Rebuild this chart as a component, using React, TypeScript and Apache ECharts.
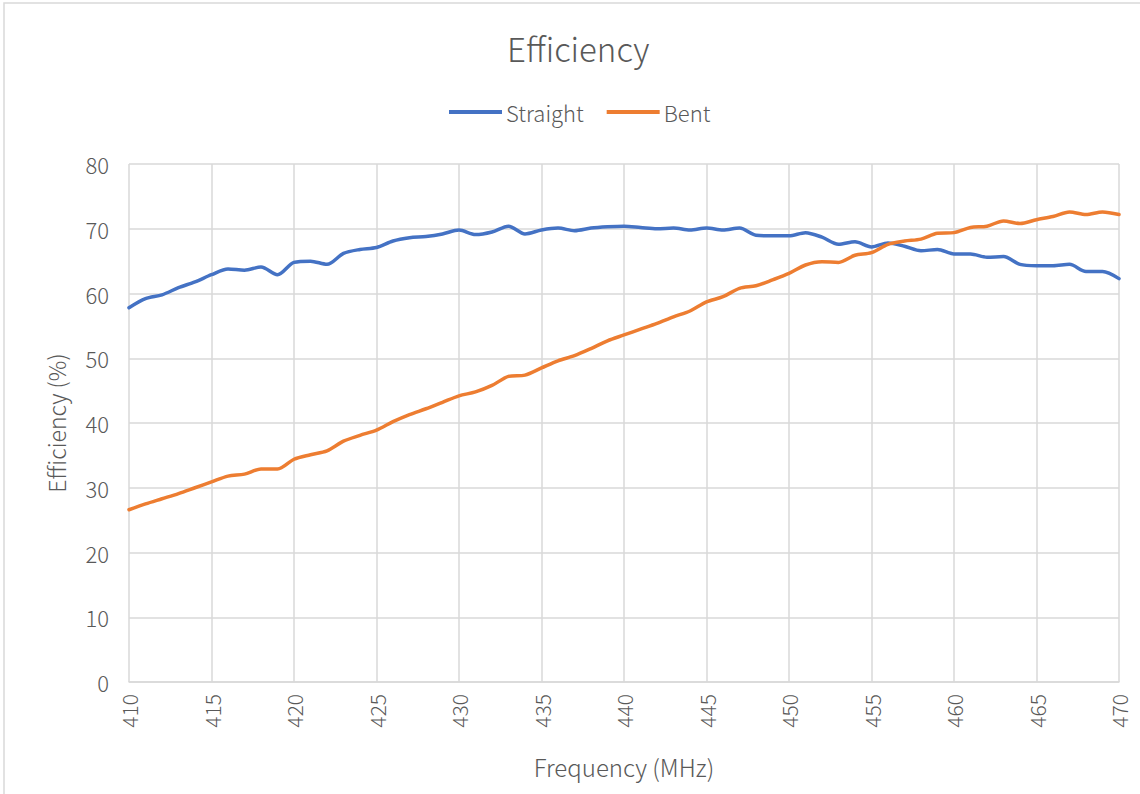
import React, { useEffect, useRef } from "react";
import * as echarts from "echarts";

const frequencies: number[] = [
  410, 411, 412, 413, 414, 415, 416, 417, 418, 419, 420, 421, 422, 423, 424, 425, 426, 427, 428, 429,
  430, 431, 432, 433, 434, 435, 436, 437, 438, 439, 440, 441, 442, 443, 444, 445, 446, 447, 448, 449,
  450, 451, 452, 453, 454, 455, 456, 457, 458, 459, 460, 461, 462, 463, 464, 465, 466, 467, 468, 469, 470,
];

const straight: number[] = [
  57.8, 59.2, 59.8, 60.9, 61.8, 62.9, 63.8, 63.6, 64.1, 62.9, 64.8, 65.0, 64.5, 66.2, 66.8, 67.1, 68.1, 68.6, 68.8, 69.2,
  69.8, 69.1, 69.5, 70.4, 69.2, 69.8, 70.1, 69.7, 70.1, 70.3, 70.4, 70.2, 70.0, 70.1, 69.8, 70.1, 69.8, 70.1, 69.0, 68.9,
  68.9, 69.4, 68.7, 67.6, 68.0, 67.2, 67.8, 67.3, 66.6, 66.8, 66.1, 66.1, 65.6, 65.7, 64.5, 64.3, 64.3, 64.5, 63.4, 63.4, 62.3,
];

const bent: number[] = [
  26.6, 27.5, 28.3, 29.1, 30.0, 30.9, 31.8, 32.1, 32.9, 32.9, 34.4, 35.1, 35.7, 37.2, 38.1, 38.9, 40.2, 41.3, 42.2, 43.2,
  44.2, 44.8, 45.8, 47.2, 47.4, 48.5, 49.6, 50.4, 51.5, 52.7, 53.6, 54.5, 55.4, 56.4, 57.3, 58.7, 59.5, 60.8, 61.2, 62.1,
  63.1, 64.4, 64.9, 64.8, 65.9, 66.3, 67.6, 68.1, 68.4, 69.3, 69.4, 70.2, 70.4, 71.2, 70.8, 71.4, 71.9, 72.6, 72.2, 72.6, 72.2,
];

const seriesNames: string[] = ["Straight", "Bent"];
const chartTitle = "Efficiency";
const xAxisName = "Frequency (MHz)";
const yAxisName = "Efficiency (%)";

const FONT = '"Noto Sans CJK SC", "Noto Sans", sans-serif';
const TEXT = "#595959";
const GRID = "#d9d9d9";

export default function App() {
  const ref = useRef<HTMLDivElement>(null);

  useEffect(() => {
    if (!ref.current) return;
    const chart = echarts.init(ref.current, undefined, { renderer: "svg" });
    chart.setOption({
      animation: false,
      backgroundColor: "#ffffff",
      textStyle: { fontFamily: FONT },
      graphic: [
        {
          type: "rect",
          shape: { x: 4, y: 3, width: 1150, height: 820 },
          style: { fill: "none", stroke: GRID, lineWidth: 1.5 },
          silent: true,
          z: -1,
        },
      ],
      title: {
        text: chartTitle,
        left: 502,
        top: 26,
        textStyle: { fontFamily: FONT, fontSize: 33, fontWeight: 300, color: TEXT },
      },
      legend: {
        top: 96,
        left: 444,
        icon: "rect",
        itemWidth: 53,
        itemHeight: 4,
        itemGap: 23,
        textStyle: { fontFamily: FONT, fontSize: 22, fontWeight: 300, color: TEXT, padding: [0, 0, 0, -1] },
        data: seriesNames,
      },
      grid: { left: 129, right: 21, top: 164, bottom: 112, containLabel: false },
      xAxis: {
        type: "value",
        min: 410,
        max: 470,
        interval: 5,
        name: xAxisName,
        nameLocation: "middle",
        nameGap: 72,
        nameTextStyle: { fontFamily: FONT, fontSize: 24, fontWeight: 300, color: TEXT },
        axisLine: { show: true, lineStyle: { color: GRID, width: 1.5 } },
        axisTick: { show: false },
        axisLabel: {
          rotate: 90,
          margin: 12,
          fontFamily: FONT,
          fontSize: 21,
          fontWeight: 300,
          color: TEXT,
        },
        splitLine: { show: true, lineStyle: { color: GRID, width: 1.5 } },
      },
      yAxis: {
        type: "value",
        min: 0,
        max: 80,
        interval: 10,
        name: yAxisName,
        nameLocation: "middle",
        nameGap: 62,
        nameTextStyle: { fontFamily: FONT, fontSize: 23, fontWeight: 300, color: TEXT },
        axisLine: { show: false },
        axisTick: { show: false },
        axisLabel: { margin: 20, fontFamily: FONT, fontSize: 22, fontWeight: 300, color: TEXT },
        splitLine: { show: true, lineStyle: { color: GRID, width: 1.5 } },
      },
      series: [
        {
          name: seriesNames[0],
          type: "line",
          smooth: 0.3,
          showSymbol: false,
          symbol: "none",
          lineStyle: { color: "#4472C4", width: 3.5, cap: "round" },
          itemStyle: { color: "#4472C4" },
          data: frequencies.map((f, i) => [f, straight[i]]),
        },
        {
          name: seriesNames[1],
          type: "line",
          smooth: 0.3,
          showSymbol: false,
          symbol: "none",
          lineStyle: { color: "#ED7D31", width: 3.5, cap: "round" },
          itemStyle: { color: "#ED7D31" },
          data: frequencies.map((f, i) => [f, bent[i]]),
        },
      ],
    });
    return () => chart.dispose();
  }, []);

  return (
    <div
      ref={ref}
      style={{ position: "fixed", left: 0, top: 0, width: 1140, height: 794 }}
    />
  );
}
